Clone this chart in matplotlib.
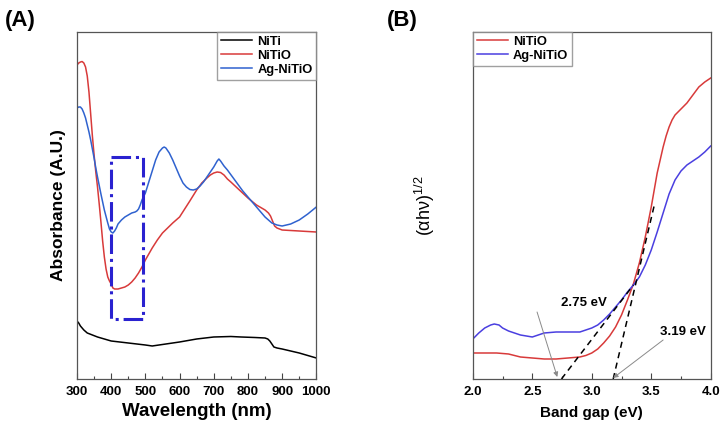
import numpy as np
import matplotlib.pyplot as plt
from matplotlib.ticker import MultipleLocator

plt.rcParams['font.family'] = ['Liberation Sans', 'DejaVu Sans']
plt.rcParams['mathtext.fontset'] = 'custom'
plt.rcParams['mathtext.rm'] = 'Liberation Sans'
plt.rcParams['mathtext.it'] = 'Liberation Sans'

## (A) UV-vis absorbance ##
wl_niti = [300, 305, 310, 315, 320, 330, 345, 360, 380, 400, 425, 450, 475, 500, 520,
           540, 560, 600, 650, 700, 750, 780, 820, 850, 858, 864, 870, 876, 885, 900,
           925, 950, 975, 1000]
abs_niti = [58, 56, 53, 51, 49, 46, 44, 42, 40, 38, 37, 36, 35, 34, 33,
            34, 35, 37, 40, 42, 42.5, 42, 41.5, 41, 40, 38, 35, 32, 31, 30,
            28, 26, 23.5, 21]

wl_nitio = [300, 305, 310, 315, 320, 325, 330, 335, 340, 345, 350, 355, 360, 365, 370,
            375, 380, 385, 390, 395, 400, 405, 410, 420, 430, 440, 450, 460, 470, 480,
            490, 500, 510, 520, 535, 550, 565, 580, 600, 615, 630, 650, 665, 680, 690,
            700, 710, 720, 730, 740, 750, 775, 800, 825, 850, 860, 866, 872, 878, 885,
            900, 950, 1000]
abs_nitio = [314, 316, 317, 317.5, 316, 312, 303, 287, 265, 243, 224, 207, 192, 175, 157,
             138, 122, 110, 102, 98, 95, 91, 90, 90, 91, 92, 94, 97, 101, 106,
             112, 119, 125, 131, 139, 146, 151, 156, 162, 170, 178, 189, 196, 201, 204,
             206, 207, 206.5, 204, 200, 197, 189, 181, 174, 169, 166, 163, 158, 153, 151,
             149, 148, 147]

wl_ag = [300, 305, 310, 315, 320, 325, 330, 335, 340, 345, 350, 355, 360, 370, 380,
         390, 395, 400, 405, 410, 415, 420, 430, 440, 450, 460, 470, 475, 480, 485,
         490, 500, 510, 520, 530, 540, 550, 555, 560, 570, 580, 590, 600, 610, 620,
         630, 640, 650, 660, 670, 680, 690, 700, 705, 710, 715, 720, 730, 740, 755,
         770, 785, 800, 815, 830, 850, 870, 885, 900, 925, 950, 975, 1000]
abs_ag = [271, 272, 272, 270, 266, 261, 254, 247, 239, 230, 221, 211, 202, 185, 169,
          156, 150, 147, 146, 148, 151, 155, 159, 162, 164, 166, 167, 168, 170, 174,
          179, 186, 197, 208, 219, 227, 231, 232, 231, 226, 219, 211, 203, 196, 192,
          189.5, 189, 190, 193, 197, 202, 207, 212, 215, 218, 220, 218, 213, 209, 202,
          195, 188, 182, 176, 170, 162, 156, 154, 153, 155, 159, 165, 172]

# dash-dot box around the 400-490 nm region
box_x = [398, 494, 494, 398, 398]
box_y = [222, 222, 60, 60, 222]

## (B) Tauc plot ##
e_nitio = [2.0, 2.1, 2.2, 2.3, 2.4, 2.5, 2.6, 2.7, 2.8, 2.9, 2.95, 3.0, 3.05, 3.1, 3.15,
           3.2, 3.25, 3.3, 3.35, 3.4, 3.45, 3.5, 3.55, 3.6, 3.625, 3.65, 3.675, 3.7, 3.75,
           3.8, 3.85, 3.9, 3.95, 4.0]
y_nitio = [26, 26, 26, 25, 22, 21, 20, 20, 21, 22, 23.5, 26, 30, 36, 43,
           52, 64, 79, 95, 116, 142, 172, 206, 232, 243, 252, 259, 264, 270,
           276, 284, 292, 297, 301]

e_ag = [2.0, 2.05, 2.1, 2.15, 2.18, 2.22, 2.25, 2.3, 2.4, 2.5, 2.55, 2.6, 2.7, 2.8,
        2.9, 3.0, 3.05, 3.1, 3.15, 3.2, 3.25, 3.3, 3.35, 3.4, 3.45, 3.5, 3.55, 3.6,
        3.65, 3.7, 3.75, 3.8, 3.85, 3.9, 3.95, 4.0]
y_ag = [40, 46, 51, 54, 55, 54, 51, 48, 44, 42, 44, 46, 47, 47,
        47, 51, 54, 59, 65, 72, 79, 87, 94, 102, 114, 129, 147, 166,
        185, 199, 208, 214, 218, 222, 227, 233]

# tangent lines for band gap
tan1_x = [2.745, 3.35]
tan1_y = [0, 94]
tan2_x = [3.18, 3.53]
tan2_y = [0, 176]

# annotation labels and arrows (text pos, arrow tail, arrow head)
gap_labels = ['2.75 eV', '3.19 eV']
gap_text_xy = [(2.93, 76), (3.77, 47)]
gap_tail_xy = [(2.54, 67), (3.60, 39)]
gap_head_xy = [(2.71, 2), (3.18, 1)]

red = '#d83a3a'
blue_a = '#2f62cf'
blue_b = '#4a3fe0'

fig = plt.figure(figsize=(7.23, 4.28), dpi=100)
ax1 = fig.add_axes([0.1065, 0.1145, 0.331, 0.8107])
ax2 = fig.add_axes([0.654, 0.1145, 0.329, 0.8107])

ax1.plot(wl_niti, abs_niti, color='black', lw=1.1, label='NiTi')
ax1.plot(wl_nitio, abs_nitio, color=red, lw=1.1, label='NiTiO')
ax1.plot(wl_ag, abs_ag, color=blue_a, lw=1.1, label='Ag-NiTiO')
ax1.plot(box_x, box_y, color='#2a22d0', lw=2.2, ls='-.')
ax1.set_xlim(300, 1000)
ax1.set_ylim(0, 347)
ax1.xaxis.set_major_locator(MultipleLocator(100))
ax1.xaxis.set_minor_locator(MultipleLocator(50))
ax1.set_xlabel('Wavelength (nm)', fontsize=13.5, fontweight='bold', labelpad=4)
ax1.set_ylabel('Absorbance (A.U.)', fontsize=12.5, fontweight='bold', labelpad=8)
leg1 = ax1.legend(loc='upper right', borderaxespad=0, fancybox=False, handlelength=2.4,
                  prop={'weight': 'bold', 'size': 9.3}, labelspacing=0.15,
                  borderpad=0.3, handletextpad=0.4)
leg1.get_frame().set_edgecolor('#888888')

ax2.plot(e_nitio, y_nitio, color=red, lw=1.1, label='NiTiO')
ax2.plot(e_ag, y_ag, color=blue_b, lw=1.1, label='Ag-NiTiO')
ax2.plot(tan1_x, tan1_y, color='black', lw=1.1, ls=(0, (4, 3)))
ax2.plot(tan2_x, tan2_y, color='black', lw=1.1, ls=(0, (4, 3)))
for lab, txy, tail, head in zip(gap_labels, gap_text_xy, gap_tail_xy, gap_head_xy):
    ax2.text(txy[0], txy[1], lab, fontsize=9.5, fontweight='bold', ha='center', va='center')
    ax2.annotate('', xy=head, xytext=tail,
                 arrowprops=dict(arrowstyle='-|>', color='#8a8a8a', lw=0.7,
                                 mutation_scale=7, shrinkA=0, shrinkB=0))
ax2.set_xlim(2.0, 4.0)
ax2.set_ylim(0, 347)
ax2.xaxis.set_major_locator(MultipleLocator(0.5))
ax2.xaxis.set_minor_locator(MultipleLocator(0.25))
ax2.xaxis.set_major_formatter(plt.FormatStrFormatter('%.1f'))
ax2.set_xlabel('Band gap (eV)', fontsize=11, fontweight='bold', labelpad=6)
ax2.set_ylabel(r'(αhν)$^{1/2}$', fontsize=13, labelpad=26)
leg2 = ax2.legend(loc='upper left', borderaxespad=0, fancybox=False, handlelength=2.4,
                  prop={'weight': 'bold', 'size': 9.3}, labelspacing=0.15,
                  borderpad=0.3, handletextpad=0.4)
leg2.get_frame().set_edgecolor('#888888')

for ax in (ax1, ax2):
    ax.set_yticks([])
    ax.tick_params(axis='x', which='major', direction='in', length=4, width=0.8,
                   labelsize=9.5, pad=5, color='#444444')
    ax.tick_params(axis='x', which='minor', direction='in', length=2.5, width=0.8,
                   color='#444444')
    for lbl in ax.get_xticklabels():
        lbl.set_fontweight('bold')
    for sp in ax.spines.values():
        sp.set_color('#555555')
        sp.set_linewidth(0.9)

fig.text(0.007, 0.94, '(A)', fontsize=16, fontweight='bold')
fig.text(0.535, 0.94, '(B)', fontsize=16, fontweight='bold')

fig.savefig('out.png', dpi=100)
